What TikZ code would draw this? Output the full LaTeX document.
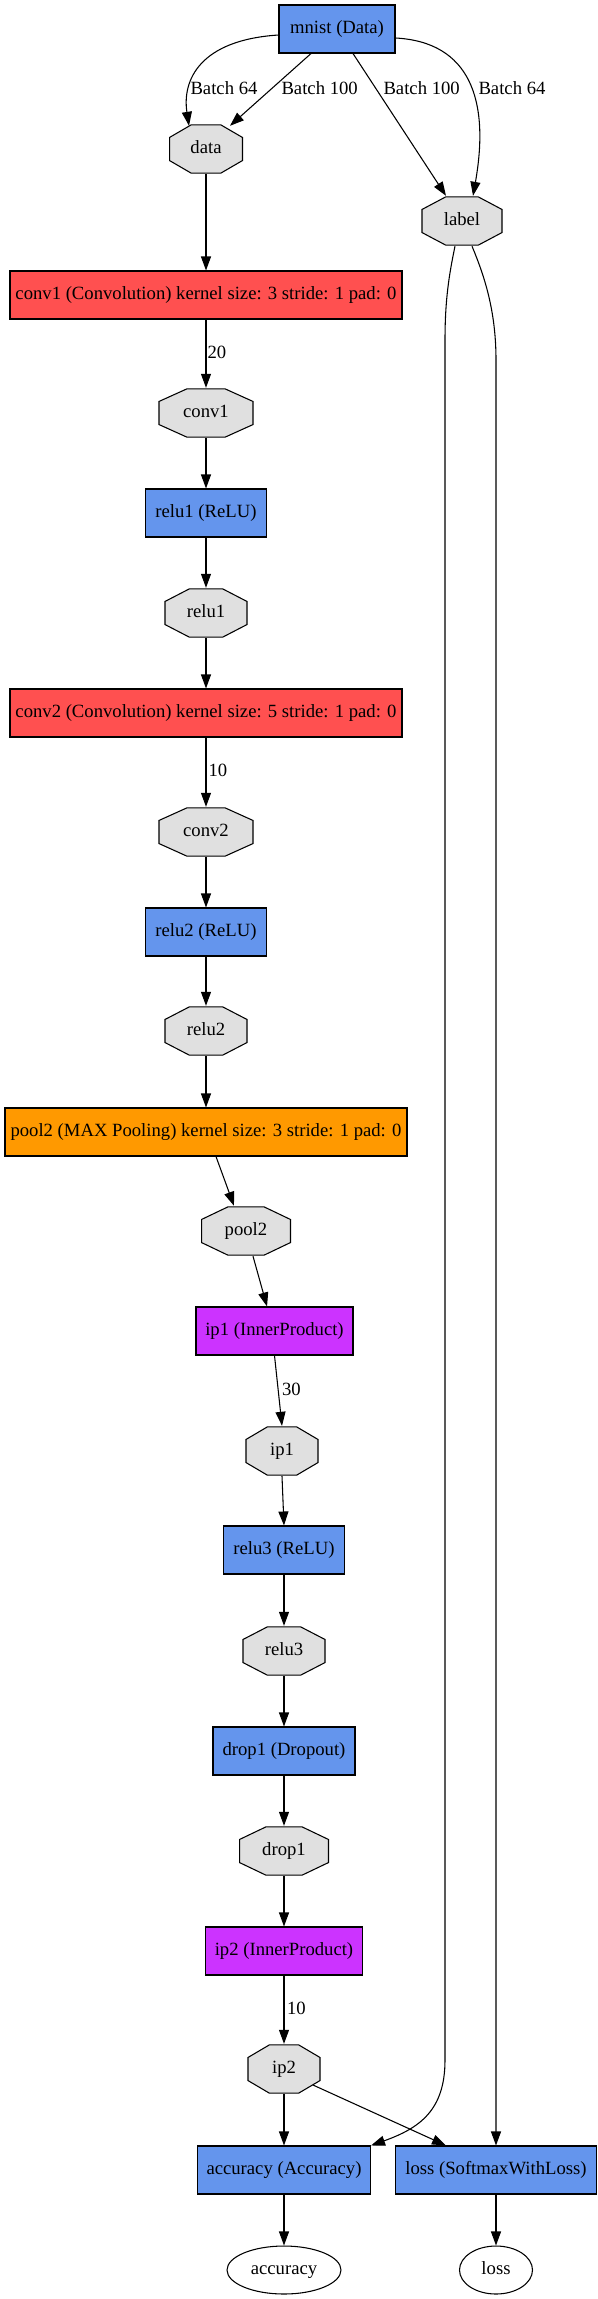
\documentclass[tikz,border=0pt]{standalone}
\usepackage{fontspec}
\setmainfont{Liberation Serif}
\usetikzlibrary{arrows.meta,shapes.geometric,calc}
\definecolor{layerblue}{HTML}{6495ED}
\definecolor{convred}{HTML}{FF5050}
\definecolor{poolorange}{HTML}{FF9900}
\definecolor{ipurple}{HTML}{CC33FF}
\definecolor{blobgray}{HTML}{E0E0E0}
\tikzset{
  base/.style={font=\fontsize{14pt}{16pt}\selectfont, text height=10pt, text depth=2.8pt, line width=0.8pt},
  layer/.style={base, draw=black, rectangle, minimum height=36pt, inner xsep=4pt, inner ysep=0pt},
  bluelayer/.style={layer, fill=layerblue},
  redlayer/.style={layer, fill=convred},
  orangelayer/.style={layer, fill=poolorange},
  purplelayer/.style={layer, fill=ipurple},
  blob/.style={base, inner sep=0pt, minimum height=37pt,
    path picture={
      \coordinate (pa) at ([shift={(0.45pt,-0.45pt)}]path picture bounding box.north west);
      \coordinate (pb) at ([shift={(-0.45pt,0.45pt)}]path picture bounding box.south east);
      \draw[line width=0.8pt, fill=blobgray]
        ($(pa)!0.295!(pa -| pb)$) -- ($(pa)!0.705!(pa -| pb)$) --
        ($(pa -| pb)!0.26!(pb)$) -- ($(pa -| pb)!0.74!(pb)$) --
        ($(pb)!0.295!(pb -| pa)$) -- ($(pb)!0.705!(pb -| pa)$) --
        ($(pb -| pa)!0.26!(pa)$) -- ($(pb -| pa)!0.74!(pa)$) -- cycle;
    }},
  outblob/.style={base, draw=black, ellipse, fill=white, inner sep=0pt, minimum height=36pt},
  elabel/.style={base, inner sep=0pt, anchor=west},
  flow/.style={line width=0.8pt, -{Triangle[length=10.5pt,width=7.5pt]}},
}
\begin{document}
\begin{tikzpicture}[x=0.75pt, y=-0.75pt]
\path[use as bounding box] (0,0) rectangle (597,2299);

% nodes
\node[bluelayer, minimum width=87pt] (mnist) at (337,29) {mnist (Data)};
\node[blob, minimum width=55.6pt] (datab) at (206,149) {data};
\node[blob, minimum width=60.9pt] (labelb) at (462,221) {label};
\node[redlayer, minimum width=294pt] (conv1) at (206,295) {conv1 (Convolution) kernel size: 3 stride: 1 pad: 0};
\node[blob, minimum width=71.4pt] (conv1b) at (206,413) {conv1};
\node[bluelayer, minimum width=90.75pt] (relu1) at (206,513) {relu1 (ReLU)};
\node[blob, minimum width=62.4pt] (relu1b) at (206,613) {relu1};
\node[redlayer, minimum width=294pt] (conv2) at (206,713) {conv2 (Convolution) kernel size: 5 stride: 1 pad: 0};
\node[blob, minimum width=71.4pt] (conv2b) at (206,832) {conv2};
\node[bluelayer, minimum width=90.75pt] (relu2) at (206,932) {relu2 (ReLU)};
\node[blob, minimum width=62.4pt] (relu2b) at (206,1031) {relu2};
\node[orangelayer, minimum width=301.5pt] (pool2) at (206,1132) {pool2 (MAX Pooling) kernel size: 3 stride: 1 pad: 0};
\node[blob, minimum width=67.6pt] (pool2b) at (246,1231) {pool2};
\node[purplelayer, minimum width=117.75pt] (ip1) at (274.5,1331) {ip1 (InnerProduct)};
\node[blob, minimum width=54.9pt] (ip1b) at (282,1451) {ip1};
\node[bluelayer, minimum width=90.75pt] (relu3) at (284,1550) {relu3 (ReLU)};
\node[blob, minimum width=62.4pt] (relu3b) at (284,1651) {relu3};
\node[bluelayer, minimum width=106.5pt] (drop1) at (284,1751) {drop1 (Dropout)};
\node[blob, minimum width=67.6pt] (drop1b) at (284,1851) {drop1};
\node[purplelayer, minimum width=117.75pt] (ip2) at (284,1951) {ip2 (InnerProduct)};
\node[blob, minimum width=54.9pt] (ip2b) at (284,2069) {ip2};
\node[bluelayer, minimum width=129.75pt] (accuracy) at (284,2170) {accuracy (Accuracy)};
\node[bluelayer, minimum width=150.75pt] (loss) at (496,2170) {loss (SoftmaxWithLoss)};
\node[outblob, minimum width=85.5pt] (accout) at (284,2270) {accuracy};
\node[outblob, minimum width=54.75pt] (lossout) at (496,2270) {loss};

% edge labels
\node[elabel] (lb1) at (190,90) {Batch 64};
\node[elabel] (lb2) at (281,90) {Batch 100};
\node[elabel] (lb3) at (383,90) {Batch 100};
\node[elabel] (lb4) at (478,90) {Batch 64};
\node[elabel] (lc1) at (207,354) {20};
\node[elabel] (lc2) at (208,772) {10};
\node[elabel] (lip1) at (281.5,1391) {30};
\node[elabel] (lip2) at (286.5,2010) {10};

% connectors
\draw[flow] ([yshift=-4.5pt]mnist.west) .. controls (200,40) and (182,80) .. ([xshift=-12.75pt,yshift=-1.5pt]datab.north);
\draw[flow] ([xshift=-19.5pt]mnist.south) -- ([xshift=18pt,yshift=-1.5pt]datab.north);
\draw[flow] ([xshift=12pt]mnist.south) -- ([xshift=-12pt]labelb.north);
\draw[flow] ([yshift=-6.75pt]mnist.east) .. controls (470,42) and (490,100) .. ([xshift=8.25pt]labelb.north);

\draw[flow] (datab.south) -- (conv1.north);
\draw[flow] (conv1.south) -- (conv1b.north);
\draw[flow] (conv1b.south) -- (relu1.north);
\draw[flow] (relu1.south) -- (relu1b.north);
\draw[flow] (relu1b.south) -- (conv2.north);
\draw[flow] (conv2.south) -- (conv2b.north);
\draw[flow] (conv2b.south) -- (relu2.north);
\draw[flow] (relu2.south) -- (relu2b.north);
\draw[flow] (relu2b.south) -- (pool2.north);
\draw[flow] ([xshift=7.5pt]pool2.south) -- ([xshift=-9pt]pool2b.north);
\draw[flow] ([xshift=5.25pt]pool2b.south) -- ([xshift=-5.6pt]ip1.north);
\draw[flow] (ip1.south) -- (ip1b.north);
\draw[flow] (ip1b.south) -- (relu3.north);
\draw[flow] (relu3.south) -- (relu3b.north);
\draw[flow] (relu3b.south) -- (drop1.north);
\draw[flow] (drop1.south) -- (drop1b.north);
\draw[flow] (drop1b.south) -- (ip2.north);
\draw[flow] (ip2.south) -- (ip2b.north);
\draw[flow] (ip2b.south) -- (accuracy.north);
\draw[flow] ([xshift=21.75pt,yshift=-12pt]ip2b.center) -- ([xshift=-37.5pt]loss.north);

\draw[flow] ([xshift=-5.25pt]labelb.south) .. controls (449,275) and (445,300) .. (445,340) -- (445,2060) .. controls (445,2110) and (420,2128) .. (accuracy.north east);
\draw[flow] ([xshift=7.5pt]labelb.south) .. controls (484,275) and (496,310) .. (496,360) -- (loss.north);

\draw[flow] (accuracy.south) -- (accout.north);
\draw[flow] (loss.south) -- (lossout.north);
\end{tikzpicture}
\end{document}
